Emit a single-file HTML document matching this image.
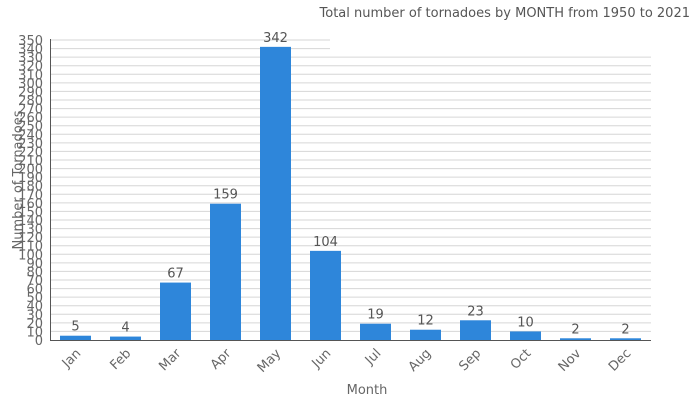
<!DOCTYPE html>
<html><head><meta charset="utf-8"><style>body{margin:0;background:#fff}svg{display:block}text{font-family:"DejaVu Sans","Liberation Sans",sans-serif}</style></head>
<body>
<svg width="700" height="400" viewBox="0 0 700 400" xmlns="http://www.w3.org/2000/svg">
<g id="grid" stroke="#d6d6d6" stroke-width="1"></g>
<rect x="331" y="0" width="369" height="52" fill="#fff"/>
<text x="690" y="17" text-anchor="end" font-size="13" fill="#555">Total number of tornadoes by MONTH from 1950 to 2021</text>
<g id="ylab" font-size="13" fill="#666" text-anchor="end"></g>
<g id="bars"></g>
<line x1="50.5" y1="39" x2="50.5" y2="341" stroke="#555"/>
<line x1="50" y1="340.5" x2="651" y2="340.5" stroke="#555"/>
<text transform="translate(22,180) rotate(-90)" text-anchor="middle" font-size="13" fill="#666">Number of Tornadoes</text>
<text x="367" y="394" text-anchor="middle" font-size="13" fill="#666">Month</text>
<script>
var ns="http://www.w3.org/2000/svg";
function el(t,a,p,txt){var e=document.createElementNS(ns,t);for(var k in a)e.setAttribute(k,a[k]);if(txt!=null)e.textContent=txt;document.getElementById(p)?document.getElementById(p).appendChild(e):p.appendChild(e);return e;}
var k=300/350;
for(var v=10;v<=350;v+=10){var y=340-v*k;el('line',{x1:50,x2:(v>=340?330:651),y1:y.toFixed(1),y2:y.toFixed(1)},'grid');}
for(var v=0;v<=350;v+=10){var y=340-v*k;el('text',{x:43,y:(y+5).toFixed(1)},'ylab',String(v));}
var m=['Jan','Feb','Mar','Apr','May','Jun','Jul','Aug','Sep','Oct','Nov','Dec'];
var d=[5,4,67,159,342,104,19,12,23,10,2,2];
var svg=document.querySelector('svg');
for(var i=0;i<12;i++){var cx=75.5+50*i,h=d[i]*k;
el('rect',{x:cx-15.5,y:340-h,width:31,height:h,fill:'#2e86da'},'bars');
el('text',{x:cx,y:340-h-5,'text-anchor':'middle','font-size':13,fill:'#555'},'bars',String(d[i]));
el('text',{x:0,y:0,'text-anchor':'end','font-size':13,fill:'#666',transform:'translate('+(cx+6)+',354) rotate(-45)'},'bars',m[i]);}
</script>
</svg>
</body></html>
